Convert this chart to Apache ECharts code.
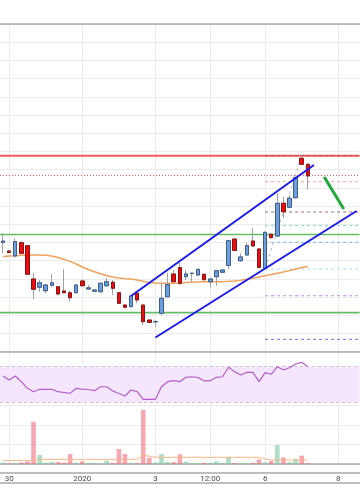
<!DOCTYPE html>
<html><head><meta charset="utf-8">
<script src="https://cdn.jsdelivr.net/npm/echarts@6/dist/echarts.min.js"></script>
<style>html,body{margin:0;padding:0;background:#fff}#c{width:360px;height:504px}</style>
</head><body><div id="c"></div>
<script>
// ---------- data ----------
const SLOT_COUNT = 59; // candles + empty space on the right
const opens  = [122.00,121.07,120.52,121.98,121.65,117.99,117.08,116.70,117.30,117.14,116.67,116.48,116.48,117.77,116.89,116.64,116.59,117.25,117.63,116.48,115.13,114.95,116.42,115.13,113.48,113.29,114.22,116.04,118.54,119.25,118.24,118.59,118.43,118.51,117.69,118.24,118.73,119.47,122.38,120.00,120.63,122.16,121.29,119.16,122.90,122.71,126.31,125.87,126.92,131.25,130.59];
const closes = [122.16,120.90,122.09,120.81,118.51,116.86,117.58,117.33,117.58,116.34,116.48,115.93,117.33,117.25,117.02,116.78,117.52,117.69,116.97,115.32,114.88,116.12,115.68,113.30,113.23,113.31,115.87,117.38,117.69,117.52,118.54,118.63,119.05,117.91,117.99,118.90,118.98,122.20,121.12,120.41,121.65,121.62,119.27,123.12,122.53,126.31,125.38,126.86,129.12,130.59,129.31];
const lows   = [120.81,120.85,120.37,120.74,118.48,115.76,116.59,116.42,117.14,116.26,116.42,115.49,116.45,117.14,116.78,116.62,116.53,117.14,116.23,115.30,114.86,114.88,115.32,112.93,113.21,112.71,114.03,115.98,117.63,117.33,117.88,117.69,118.32,117.88,117.08,117.25,118.70,119.05,121.07,119.89,120.52,121.54,119.20,119.05,122.44,122.64,124.66,125.76,126.86,130.52,127.85];
const highs  = [123.01,121.12,122.46,122.16,121.73,118.62,117.88,117.44,118.54,117.22,119.09,116.70,117.38,117.96,117.33,116.84,117.63,118.07,117.88,116.56,115.13,116.23,116.59,115.13,113.48,113.48,117.55,118.68,118.98,119.75,118.98,118.68,119.09,118.54,118.07,118.98,118.98,122.27,122.44,120.81,121.91,123.56,121.34,123.19,123.01,127.41,127.03,127.22,129.23,131.51,130.70];
const movingAvg = [120.46,120.52,120.55,120.59,120.60,120.63,120.63,120.59,120.52,120.35,120.16,119.93,119.64,119.31,119.03,118.78,118.56,118.37,118.21,118.10,118.03,117.99,117.88,117.74,117.60,117.55,117.52,117.52,117.52,117.55,117.60,117.64,117.66,117.68,117.69,117.69,117.70,117.73,117.77,117.86,117.96,118.08,118.21,118.34,118.48,118.62,118.76,118.92,119.09,119.25,119.36];
const rsiValues = [59.1,54.7,59.1,52.9,45.7,42.0,44.6,44.6,44.6,42.0,41.1,40.2,45.7,44.9,44.4,43.1,47.4,47.4,42.8,40.0,37.3,43.8,42.0,33.7,33.7,33.7,47.4,52.9,54.0,52.9,57.7,58.3,57.5,53.7,54.0,57.7,58.3,68.6,63.8,60.2,63.1,63.1,52.9,62.7,61.0,69.2,65.6,68.1,72.2,74.0,69.2];
const volumes = [70,30,40,70,120,2170,460,70,100,100,70,510,70,140,60,40,40,170,60,770,510,70,50,2770,320,70,510,100,100,500,120,40,40,60,50,140,40,370,50,40,40,60,240,80,150,970,340,100,260,430,40];
const volumeAvg = [170,170,170,170,170,200,240,240,240,240,240,240,240,240,240,240,240,240,240,240,240,240,240,446,400,350,344,344,344,344,344,344,344,344,344,344,344,344,344,344,344,344,344,260,205,205,205,205,205,205,205];
const tickIndex = [1,13,25,34,43,55];
const tickLabels = ['30','2020','3','12:00','6','8'];
const rsiBand = [30,70];
// price levels drawn across the whole chart
const levelSupportHigh = 122.88, levelSupportLow = 114.29, levelResistance = 131.54, levelDotted = 129.38;
// fibonacci-style levels starting at the swing-low candle
const fibStart = 43;
const fibLevels = [131.54,128.68,125.35,123.85,122.02,119.09,116.15,111.36];
// trend lines  [x index, price]
const channelUpper = [[21,116.12],[51,130.51]];
const channelLower = [[25,111.56],[58,125.46]];
const swingLine = [[43,119.2],[49,131.5]];
const arrowLine = [[52.7,129.2],[55.9,125.68]];

// ---------- build ----------
const cats = Array.from({length: SLOT_COUNT}, (_, i) => 'k' + i);
const labelMap = {}; tickIndex.forEach((k, j) => labelMap[k] = tickLabels[j]);
const isTick = (i) => labelMap[i] !== undefined;
const candleData = opens.map((o, i) => [o, closes[i], lows[i], highs[i]]);
const bodyData = opens.map((o, i) => [o, closes[i], Math.min(o, closes[i]), Math.max(o, closes[i])]);
const volData = volumes.map((v, i) => ({value: v, itemStyle: {color: closes[i] >= opens[i] ? 'rgba(120,200,160,0.6)' : 'rgba(240,110,125,0.6)'}}));
const XMIN = -0.5, XMAX = SLOT_COUNT - 0.5;
const GRID = '#ececec', BORDER = '#a9a9a9';

function catAxis(grid, pos, extra) {
  return Object.assign({
    type: 'category', gridIndex: grid, data: cats, position: pos, boundaryGap: true,
    axisLine: {show: true, lineStyle: {color: BORDER, width: 1.5}},
    axisTick: {show: false}, axisLabel: {show: false},
    splitLine: {show: true, interval: (i) => isTick(i), alignWithLabel: true, lineStyle: {color: GRID, width: 1}}
  }, extra || {});
}
function seg(points, color, width, type, z) {
  return {type: 'line', xAxisIndex: 1, yAxisIndex: 0, data: points, symbol: 'none', silent: true,
    lineStyle: {color: color, width: width, type: type || 'solid'}, z: z || 5};
}
const levelStyles = [
  ['#b85050', 1, [3, 3]], ['#f3a0a0', 1, [3, 3]], ['#a06878', 1, [3, 3]], ['#7fd4c4', 1, [3, 3]],
  ['#6cb8e8', 1, [3, 3]], ['#a8dcf2', 1, [3, 3]], ['#c88ae6', 1, [3, 3]], ['#6a6ad8', 1, [3, 3]]
];
const series = [];
series.push(seg([[XMIN, levelResistance], [XMAX, levelResistance]], '#f45a5a', 2, 'solid', 3));
series.push(seg([[XMIN, levelDotted], [XMAX, levelDotted]], '#e04848', 1, [1, 2], 3));
series.push(seg([[XMIN, levelSupportHigh], [XMAX, levelSupportHigh]], '#63bd63', 1.6, 'solid', 3));
series.push(seg([[XMIN, levelSupportLow], [XMAX, levelSupportLow]], '#63bd63', 1.6, 'solid', 3));
fibLevels.forEach((p, j) => series.push(seg([[fibStart, p], [XMAX, p]], levelStyles[j][0], levelStyles[j][1], levelStyles[j][2], 3)));
series.push(seg(swingLine, '#b8b8b8', 1, [3, 3], 4));
series.push({type: 'line', xAxisIndex: 0, yAxisIndex: 0, data: movingAvg, symbol: 'none', silent: true,
  lineStyle: {color: '#f0a25c', width: 1.5}, z: 4});
series.push({type: 'candlestick', xAxisIndex: 0, yAxisIndex: 0, data: candleData, barWidth: 4, silent: true, z: 6,
  itemStyle: {color: 'rgba(0,0,0,0)', color0: 'rgba(0,0,0,0)', borderColor: '#a0a0a0', borderColor0: '#a0a0a0', borderWidth: 1}});
series.push({type: 'candlestick', xAxisIndex: 0, yAxisIndex: 0, data: bodyData, barWidth: 4, silent: true, z: 7,
  itemStyle: {color: '#6a9fdc', color0: '#e80c0c', borderColor: '#3a5d8c', borderColor0: '#8c1212', borderWidth: 1}});
series.push(seg(channelUpper, '#1a1aee', 2, 'solid', 8));
series.push(seg(channelLower, '#1a1aee', 2, 'solid', 8));
series.push(seg(arrowLine, '#1fa83c', 3, 'solid', 8));
// RSI
series.push({type: 'line', xAxisIndex: 2, yAxisIndex: 1, data: rsiValues, symbol: 'none', silent: true,
  lineStyle: {color: '#b45cc8', width: 1.2}, z: 5,
  markArea: {silent: true, itemStyle: {color: '#f3e6fd'}, data: [[{yAxis: rsiBand[0]}, {yAxis: rsiBand[1]}]]},
  markLine: {silent: true, symbol: 'none', label: {show: false}, lineStyle: {color: '#c8c8c8', type: [3, 3], width: 1},
    data: [{yAxis: rsiBand[0]}, {yAxis: rsiBand[1]}]}});
// Volume
series.push({type: 'bar', xAxisIndex: 3, yAxisIndex: 2, data: volData, barWidth: 4.6, silent: true, z: 3});
series.push({type: 'line', xAxisIndex: 3, yAxisIndex: 2, data: volumeAvg, symbol: 'none', silent: true,
  lineStyle: {color: '#f7b487', width: 1}, z: 4});

const option = {
  animation: false,
  backgroundColor: '#ffffff',
  grid: [
    {left: -1.4, width: 361, top: 24.1, height: 327.6},
    {left: -1.4, width: 361, top: 351.7, height: 54.3},
    {left: -1.4, width: 361, top: 405.5, height: 58.5}
  ],
  xAxis: [
    catAxis(0, 'top'),
    {type: 'value', gridIndex: 0, min: XMIN, max: XMAX, show: false},
    catAxis(1, 'top'),
    catAxis(2, 'top'),
    catAxis(2, 'bottom', {offset: 8.7,
      axisLabel: {show: true, interval: (i) => isTick(i), formatter: (v, i) => labelMap[i] || '',
        color: '#4a4a4a', fontSize: 8, fontFamily: 'Roboto', margin: 2},
      splitLine: {show: false}}),
    catAxis(2, 'bottom', {offset: 18.7, splitLine: {show: false}})
  ],
  yAxis: [
    {type: 'value', gridIndex: 0, min: 110, max: 146, interval: 2, axisLine: {show: false}, axisTick: {show: false},
      axisLabel: {show: false}, splitLine: {show: true, lineStyle: {color: GRID}}},
    {type: 'value', gridIndex: 1, min: 26.4, max: 85.6, axisLine: {show: false}, axisTick: {show: false},
      axisLabel: {show: false}, splitLine: {show: false}},
    {type: 'value', gridIndex: 2, min: 0, max: 3000, interval: 1000, axisLine: {show: false}, axisTick: {show: false},
      axisLabel: {show: false}, splitLine: {show: true, lineStyle: {color: GRID}}}
  ],
  series: series
};
echarts.init(document.getElementById('c'), null, {renderer: 'canvas'}).setOption(option);
</script>
</body></html>
